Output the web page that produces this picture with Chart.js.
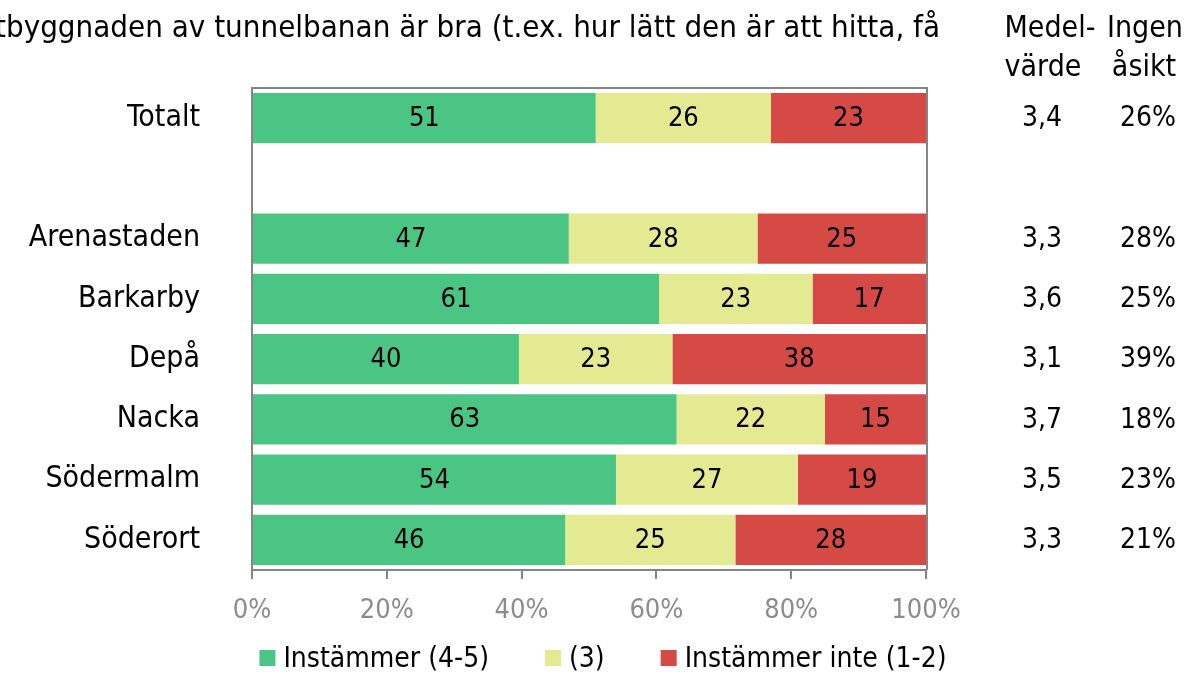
<!DOCTYPE html>
<html lang="sv">
<head>
<meta charset="UTF-8">
<title>Tunnelbanan</title>
<script src="https://cdn.jsdelivr.net/npm/chart.js@4/dist/chart.umd.min.js"></script>
<style>
  html, body { margin: 0; padding: 0; background: #fff; }
  #wrap { width: 1202px; height: 675px; position: relative; }
</style>
</head>
<body>
<div id="wrap"><canvas id="c" width="1202" height="675"></canvas></div>
<script>
// data
const categories = ['Totalt', '', 'Arenastaden', 'Barkarby', 'Depå', 'Nacka', 'Södermalm', 'Söderort'];
const instammer = [51, null, 47, 61, 40, 63, 54, 46];
const neutral = [26, null, 28, 23, 23, 22, 27, 25];
const instammerInte = [23, null, 25, 17, 38, 15, 19, 28];
const medelvarde = [3.4, null, 3.3, 3.6, 3.1, 3.7, 3.5, 3.3];
const ingenAsikt = [26, null, 28, 25, 39, 18, 23, 21];
const xTicks = [0, 20, 40, 60, 80, 100];
const seriesNames = ['Instämmer (4-5)', '(3)', 'Instämmer inte (1-2)'];
const titleText = 'tbyggnaden av tunnelbanan är bra (t.ex. hur lätt den är att hitta, få';

const FONT = "'DejaVu Sans Condensed', 'DejaVu Sans', sans-serif";
const colors = ['#4BC584', '#E4EA92', '#D64A45'];
const axisGrey = '#858585';
const raw = [instammer, neutral, instammerInte];

// bars are drawn as share of row total (rows sum to 99-101)
function share(i, k) {
  const v = raw[k][i];
  if (v === null) return null;
  const tot = raw[0][i] + raw[1][i] + raw[2][i];
  return v / tot * 100;
}

const datasets = seriesNames.map((name, k) => ({
  label: name,
  data: categories.map((c, i) => share(i, k)),
  backgroundColor: colors[k],
  borderWidth: 0,
  barPercentage: 0.83,
  categoryPercentage: 1
}));

// numbers in the bars, side columns, title, frame, legend
const extras = {
  id: 'extras',
  afterDatasetsDraw(chart) {
    const ctx = chart.ctx;
    ctx.save();
    ctx.font = '27px ' + FONT;
    ctx.fillStyle = '#000';
    ctx.textAlign = 'center';
    ctx.textBaseline = 'middle';
    chart.data.datasets.forEach((ds, k) => {
      chart.getDatasetMeta(k).data.forEach((bar, i) => {
        if (raw[k][i] === null) return;
        const mid = (bar.x + bar.base) / 2;
        ctx.fillText(String(raw[k][i]), mid, bar.y + 1);
      });
    });
    ctx.restore();
  },
  afterDraw(chart) {
    const ctx = chart.ctx;
    const a = chart.chartArea;
    const y = chart.scales.y;
    ctx.save();
    // frame top and right
    ctx.strokeStyle = axisGrey;
    ctx.lineWidth = 2;
    ctx.beginPath();
    ctx.moveTo(a.left, a.top);
    ctx.lineTo(a.right + 1, a.top);
    ctx.lineTo(a.right + 1, a.bottom);
    ctx.stroke();

    ctx.fillStyle = '#000';
    ctx.textBaseline = 'middle';
    ctx.font = '31px ' + FONT;
    ctx.textAlign = 'right';
    ctx.fillText(titleText, 940, 29);

    ctx.textAlign = 'center';
    ctx.font = '30px ' + FONT;
    ctx.fillText('Medel-', 1050, 29);
    ctx.fillText('värde', 1043, 68);
    ctx.fillText('Ingen', 1145, 29);
    ctx.fillText('åsikt', 1144, 68);

    ctx.font = '28px ' + FONT;
    categories.forEach((c, i) => {
      if (medelvarde[i] === null) return;
      const py = y.getPixelForValue(i);
      ctx.fillText(medelvarde[i].toFixed(1).replace('.', ','), 1042, py + 1);
      ctx.fillText(ingenAsikt[i] + '%', 1148, py + 1);
    });

    // legend
    ctx.font = '28px ' + FONT;
    const box = 16, gap = 8, spacing = 56;
    const widths = chart.data.datasets.map(ds => box + gap + ctx.measureText(ds.label).width);
    const total = widths.reduce((s, w) => s + w, 0) + spacing * (widths.length - 1);
    let lx = 603 - total / 2;
    const ly = 660;
    ctx.textAlign = 'left';
    chart.data.datasets.forEach((ds, k) => {
      ctx.fillStyle = ds.backgroundColor;
      ctx.fillRect(lx, ly - 10, box, box);
      ctx.fillStyle = '#000';
      ctx.fillText(ds.label, lx + box + gap, ly);
      lx += widths[k] + spacing;
    });
    ctx.restore();
  }
};

new Chart(document.getElementById('c'), {
  type: 'bar',
  data: { labels: categories, datasets: datasets },
  options: {
    indexAxis: 'y',
    responsive: false,
    animation: false,
    layout: { padding: { top: 88, right: 276, left: 0, bottom: 47 } },
    scales: {
      x: {
        stacked: true,
        min: 0,
        max: 100,
        afterBuildTicks(s) { s.ticks = xTicks.map(v => ({ value: v })); },
        afterFit(s) { s.height = 58; },
        grid: { drawOnChartArea: false, color: axisGrey, lineWidth: 2, tickLength: 9 },
        border: { color: axisGrey, width: 2 },
        ticks: {
          color: '#8c8c8c',
          font: { family: FONT, size: 27 },
          padding: 16,
          callback: v => v + '%'
        }
      },
      y: {
        stacked: true,
        afterFit(s) { s.width = 252; },
        grid: { display: false },
        border: { color: axisGrey, width: 2 },
        ticks: {
          color: '#000',
          font: { family: FONT, size: 30 },
          padding: 44
        }
      }
    },
    plugins: {
      tooltip: { enabled: false },
      legend: { display: false }
    }
  },
  plugins: [extras]
});
</script>
</body>
</html>
